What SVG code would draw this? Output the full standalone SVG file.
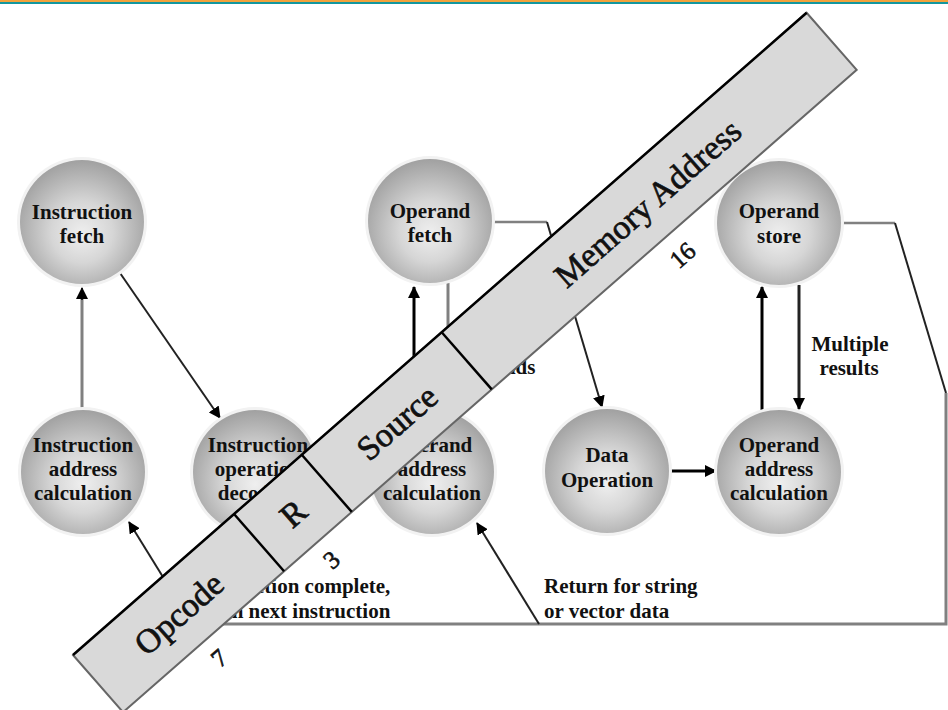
<svg xmlns="http://www.w3.org/2000/svg" width="948" height="710" viewBox="0 0 948 710">
<defs>
  <radialGradient id="ball" cx="50%" cy="56%" r="55%" fx="50%" fy="60%">
    <stop offset="0" stop-color="#efefef"/>
    <stop offset="0.45" stop-color="#d6d6d6"/>
    <stop offset="0.85" stop-color="#b0b0b0"/>
    <stop offset="1" stop-color="#a2a2a2"/>
  </radialGradient>
  <marker id="ah" viewBox="0 0 12 12" refX="11" refY="6" markerWidth="12" markerHeight="12" markerUnits="userSpaceOnUse" orient="auto">
    <path d="M0,0 L12,6 L0,12 Z" fill="#000"/>
  </marker>
  <style>
    .halo { fill: #f2f2f2; }
    .ball { fill: url(#ball); }
    .lbl { font-family: "Liberation Serif", "Times New Roman", serif; font-weight: bold; font-size: 21px; fill: #111; text-anchor: middle; }
    .note { font-family: "Liberation Serif", "Times New Roman", serif; font-weight: bold; font-size: 21px; fill: #111; }
    .gray { fill: none; stroke: #808080; stroke-width: 3; }
    .thin { fill: none; stroke: #222; stroke-width: 2; }
    .blk { fill: none; stroke: #000; stroke-width: 3; }
    .field { fill: #d9d9d9; stroke: #666; stroke-width: 2; }
    .edge { stroke: #000; stroke-width: 2.5; }
    .div { stroke: #000; stroke-width: 2.5; }
    .ftxt { font-family: "Liberation Serif", "Times New Roman", serif; font-size: 34px; fill: #111; stroke: #111; stroke-width: 0.7; text-anchor: middle; }
    .num { font-family: "Liberation Serif", "Times New Roman", serif; font-size: 25px; fill: #111; stroke: #111; stroke-width: 0.6; text-anchor: middle; }
  </style>
</defs>
<rect x="0" y="0" width="948" height="710" fill="#ffffff"/>
<rect x="0" y="0" width="948" height="2" fill="#f2a33c"/>
<rect x="0" y="2" width="948" height="2" fill="#12979f"/>

<g id="connectors">
  <path class="gray" d="M82 410 V298"/>
  <path class="thin" d="M82 300 V288" marker-end="url(#ah)"/>
  <path class="thin" d="M120 273 L220 418" marker-end="url(#ah)"/>
  <path class="blk" d="M414 412 V287" marker-end="url(#ah)"/>
  <path class="gray" d="M448 283 V410"/>
  <path class="gray" style="stroke-width:2.5" d="M493 222 H547"/>
  <path class="thin" d="M547 222 L602 407" marker-end="url(#ah)"/>
  <path class="blk" d="M669 471 H716" marker-end="url(#ah)"/>
  <path class="blk" d="M762 410 V287" marker-end="url(#ah)"/>
  <path class="blk" style="stroke:#222" d="M799 285 V409" marker-end="url(#ah)"/>
  <path class="gray" style="stroke-width:2.5" d="M841 223 H895"/>
  <path class="thin" d="M895 223 L946 393"/>
  <path class="gray" d="M946 393 V624 H192"/>
  <path class="thin" d="M192 624 L129 522" marker-end="url(#ah)"/>
  <path class="thin" d="M539 624 L477 523" marker-end="url(#ah)"/>
  <text class="lbl" x="850" y="351">Multiple</text>
  <text class="lbl" x="849" y="375">results</text>
  <text class="lbl" x="494" y="351">Multiple</text>
  <text class="lbl" x="494" y="374">operands</text>
  <text class="note" x="199" y="593">Instruction complete,</text>
  <text class="note" x="199" y="618">fetch next instruction</text>
  <text class="note" x="544" y="593">Return for string</text>
  <text class="note" x="544" y="618">or vector data</text>
</g>

<g id="instruction-fetch">
  <circle class="halo" cx="82" cy="222" r="65"/>
  <circle class="ball" cx="82" cy="222" r="62"/>
  <text class="lbl" x="82" y="219">Instruction</text>
  <text class="lbl" x="82" y="243">fetch</text>
</g>
<g id="operand-fetch">
  <circle class="halo" cx="430" cy="221" r="65"/>
  <circle class="ball" cx="430" cy="221" r="62"/>
  <text class="lbl" x="430" y="218">Operand</text>
  <text class="lbl" x="430" y="242">fetch</text>
</g>
<g id="operand-store">
  <circle class="halo" cx="779" cy="223" r="65"/>
  <circle class="ball" cx="779" cy="223" r="62"/>
  <text class="lbl" x="779" y="218">Operand</text>
  <text class="lbl" x="779" y="243">store</text>
</g>
<g id="instruction-address-calculation">
  <circle class="halo" cx="83" cy="472" r="65"/>
  <circle class="ball" cx="83" cy="472" r="62"/>
  <text class="lbl" x="83" y="452">Instruction</text>
  <text class="lbl" x="83" y="476">address</text>
  <text class="lbl" x="83" y="500">calculation</text>
</g>
<g id="instruction-operation-decoding">
  <circle class="halo" cx="255" cy="472" r="65"/>
  <circle class="ball" cx="255" cy="472" r="62"/>
  <text class="lbl" x="258" y="452">Instruction</text>
  <text class="lbl" x="258" y="476">operation</text>
  <text class="lbl" x="258" y="500">decoding</text>
</g>
<g id="operand-address-calculation-1">
  <circle class="halo" cx="432" cy="472" r="65"/>
  <circle class="ball" cx="432" cy="472" r="62"/>
  <text class="lbl" x="432" y="452">Operand</text>
  <text class="lbl" x="432" y="476">address</text>
  <text class="lbl" x="432" y="500">calculation</text>
</g>
<g id="data-operation">
  <circle class="halo" cx="607" cy="471" r="65"/>
  <circle class="ball" cx="607" cy="471" r="62"/>
  <text class="lbl" x="607" y="462">Data</text>
  <text class="lbl" x="607" y="487">Operation</text>
</g>
<g id="operand-address-calculation-2">
  <circle class="halo" cx="779" cy="472" r="65"/>
  <circle class="ball" cx="779" cy="472" r="62"/>
  <text class="lbl" x="779" y="452">Operand</text>
  <text class="lbl" x="779" y="476">address</text>
  <text class="lbl" x="779" y="500">calculation</text>
</g>

<g id="instruction-format" transform="translate(73 655) rotate(-41.2)">
  <rect class="field" x="0" y="0" width="975" height="76"/>
  <line class="edge" x1="0" y1="0" x2="975" y2="0"/>
  <g id="field-opcode">
    <text class="ftxt" x="107" y="50">Opcode</text>
    <text class="num" x="108" y="107">7</text>
  </g>
  <line class="div" x1="214" y1="0" x2="214" y2="76"/>
  <g id="field-r">
    <text class="ftxt" x="259" y="50">R</text>
    <text class="num" x="257" y="107">3</text>
  </g>
  <line class="div" x1="304" y1="0" x2="304" y2="76"/>
  <g id="field-source">
    <text class="ftxt" x="397" y="50">Source</text>
  </g>
  <line class="div" x1="490" y1="0" x2="490" y2="76"/>
  <g id="field-memory-address">
    <text class="ftxt" x="730" y="50">Memory Address</text>
    <text class="num" x="722" y="109">16</text>
  </g>
</g>
</svg>
